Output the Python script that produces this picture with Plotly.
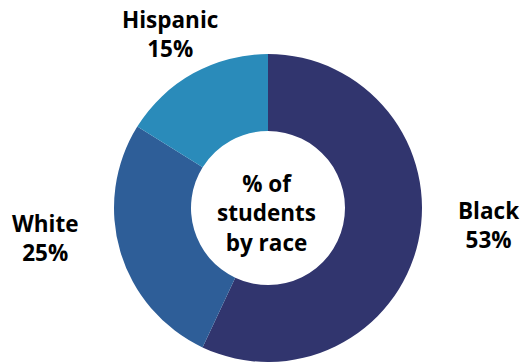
import plotly.graph_objects as go

categories = ["Black", "White", "Hispanic"]
values = [53, 25, 15]
colors = ["#31356E", "#2E5E98", "#2A8BBA"]
center_text = "% of<br>students<br>by race"

W, H = 521, 362
cx, cy, r = 268, 208, 154

def px(x, y):
    return x / W, 1 - y / H

# label centers (pixel coords)
label_pos = {"Black": px(488, 225),
             "White": px(44.5, 238),
             "Hispanic": px(170, 34)}

fig = go.Figure(go.Pie(
    labels=categories,
    values=values,
    marker=dict(colors=colors, line=dict(width=0)),
    hole=0.5,
    sort=False,
    direction="clockwise",
    rotation=0,
    textinfo="none",
    hoverinfo="label+percent",
    domain=dict(x=[(cx - r) / W, (cx + r) / W], y=[1 - (cy + r) / H, 1 - (cy - r) / H]),
    showlegend=False,
))

font = dict(family="Open Sans", size=22.5, color="#000000", weight=700)
for cat, v in zip(categories, values):
    x, y = label_pos[cat]
    fig.add_annotation(x=x, y=y, xref="paper", yref="paper", text=f"{cat}<br>{v}%",
                       showarrow=False, font=font, xanchor="center", yanchor="middle", align="center")

x, y = px(266, 213)
fig.add_annotation(x=x, y=y, xref="paper", yref="paper", text=center_text,
                   showarrow=False, font=font, xanchor="center", yanchor="middle", align="center")

fig.update_layout(width=W, height=H, margin=dict(l=0, r=0, t=0, b=0),
                  paper_bgcolor="white", plot_bgcolor="white")
fig.write_html("out.html", config={"displayModeBar": False},
               post_script="document.body.style.margin='0px';document.body.style.overflow='hidden';")
